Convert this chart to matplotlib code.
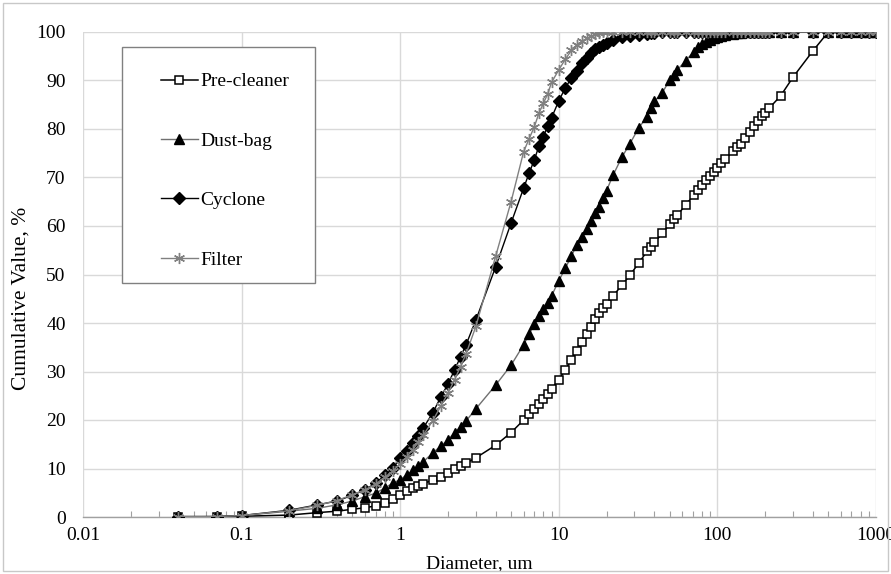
import matplotlib
matplotlib.use("Agg")
import matplotlib.pyplot as plt
from matplotlib.patches import Rectangle
from matplotlib.ticker import LogLocator, NullFormatter, FixedLocator

plt.rcParams['font.family'] = ['Liberation Serif', 'DejaVu Serif']

diameter = [0.04, 0.07, 0.1, 0.2, 0.3, 0.4, 0.5, 0.6, 0.7, 0.8, 0.9,
            1.0, 1.1, 1.2, 1.3, 1.4, 1.6, 1.8, 2.0, 2.2, 2.4, 2.6, 3.0,
            4.0, 5.0, 6.0, 6.5, 7.0, 7.5, 8.0, 8.5, 9.0,
            10, 11, 12, 13, 14, 15, 16, 17, 18, 19, 20,
            22, 25, 28, 32, 36, 38, 40,
            45, 50, 53, 56, 63, 71, 75, 80, 85, 90, 95,
            100, 106, 112, 125, 132, 140, 150, 160, 170, 180, 190, 200, 212,
            250, 300, 400, 500, 600, 700, 800, 900, 1000]

pre_cleaner = [0.0, 0.05, 0.15, 0.4, 0.9, 1.2, 1.6, 1.9, 2.3, 2.9, 3.8,
               4.6, 5.3, 5.9, 6.4, 6.9, 7.6, 8.3, 9.1, 9.8, 10.5, 11.1, 12.2,
               14.8, 17.4, 20.0, 21.2, 22.3, 23.4, 24.4, 25.4, 26.4,
               28.3, 30.4, 32.4, 34.3, 36.0, 37.7, 39.2, 40.8, 42.0, 43.1, 44.0,
               45.6, 47.8, 49.8, 52.4, 54.8, 55.7, 56.6,
               58.5, 60.4, 61.4, 62.3, 64.3, 66.4, 67.4, 68.5, 69.5, 70.3, 71.2,
               72.0, 72.9, 73.8, 75.4, 76.2, 77.0, 78.2, 79.4, 80.6, 81.7, 82.6, 83.4, 84.3,
               86.8, 90.7, 96.1, 100, 100, 100, 100, 100, 100]

dust_bag = [0.0, 0.1, 0.3, 1.2, 1.8, 2.5, 3.3, 4.2, 4.9, 6.0, 7.0,
            7.7, 8.7, 9.6, 10.5, 11.4, 13.2, 14.6, 15.9, 17.4, 18.6, 19.8, 22.3,
            27.2, 31.3, 35.5, 37.7, 39.7, 41.4, 42.9, 44.2, 45.6,
            48.7, 51.3, 53.8, 56.1, 57.7, 59.3, 61.1, 62.6, 64.0, 65.8, 67.3,
            70.5, 74.2, 76.9, 80.3, 82.5, 84.3, 85.7,
            87.5, 90.1, 91.1, 92.2, 94.1, 95.9, 96.9, 97.5, 97.9, 98.3, 98.7,
            99.0, 99.2, 99.4, 99.6, 99.7, 99.8, 99.9, 100, 100, 100, 100, 100, 100,
            100, 100, 100, 100, 100, 100, 100, 100, 100]

cyclone = [0.1, 0.1, 0.3, 1.4, 2.5, 3.3, 4.5, 5.6, 7.0, 8.6, 10.1,
           12.1, 13.6, 15.2, 16.8, 18.4, 21.4, 24.7, 27.4, 30.3, 33.0, 35.5, 40.6,
           51.6, 60.6, 67.8, 70.9, 73.6, 76.5, 78.4, 80.6, 82.3,
           85.8, 88.5, 90.5, 92.0, 93.6, 94.6, 95.6, 96.4, 96.9, 97.3, 97.7,
           98.3, 99.0, 99.2, 99.4, 99.6, 99.7, 99.8,
           99.9, 100, 100, 100, 100, 100, 100, 100, 100, 100, 100,
           100, 100, 100, 100, 100, 100, 100, 100, 100, 100, 100, 100, 100,
           100, 100, 100, 100, 100, 100, 100, 100, 100]

filter_ = [0.1, 0.1, 0.3, 1.3, 2.4, 3.4, 4.6, 5.6, 6.8, 8.2, 9.5,
           11.0, 12.4, 13.9, 15.4, 16.9, 19.8, 22.8, 25.5, 28.3, 31.0, 33.6, 39.3,
           53.8, 65.0, 75.3, 78.0, 80.4, 83.3, 85.3, 87.2, 89.6,
           92.2, 94.4, 96.2, 97.4, 98.1, 98.7, 99.1, 99.5, 99.8, 99.9, 100,
           100, 100, 100, 100, 100, 100, 100,
           100, 100, 100, 100, 100, 100, 100, 100, 100, 100, 100,
           100, 100, 100, 100, 100, 100, 100, 100, 100, 100, 100, 100, 100,
           100, 100, 100, 100, 100, 100, 100, 100, 100]

series_names = ["Pre-cleaner", "Dust-bag", "Cyclone", "Filter"]
x_tick_labels = ["0.01", "0.1", "1", "10", "100", "1000"]
y_ticks = [0, 10, 20, 30, 40, 50, 60, 70, 80, 90, 100]

W, H = 891, 574
fig = plt.figure(figsize=(W / 100, H / 100), dpi=100)
ax = fig.add_axes([83 / W, 1 - 517 / H, (876 - 83) / W, (517 - 32) / H])

# outer chart border
fig.patches.append(Rectangle((3 / W, 3 / H), (W - 6) / W, (H - 6) / H,
                             transform=fig.transFigure, fill=False,
                             edgecolor='#c8c8c8', linewidth=1.0))

ax.plot(diameter, pre_cleaner, color='black', lw=1.1, marker='s', ms=6.2,
        mfc='white', mec='black', mew=1.1, label=series_names[0], zorder=3)
ax.plot(diameter, dust_bag, color='#707070', lw=1.0, marker='^', ms=7,
        mfc='black', mec='black', label=series_names[1], zorder=4)
ax.plot(diameter, cyclone, color='black', lw=1.0, marker='D', ms=6,
        mfc='black', mec='black', label=series_names[2], zorder=5)
ax.plot(diameter, filter_, color='#808080', lw=1.0, marker=(6, 2, 0), ms=8,
        mfc='#808080', mec='#808080', mew=1.0, label=series_names[3], zorder=6)

ax.set_xscale('log')
ax.set_xlim(0.01, 1000)
ax.set_ylim(0, 100)

ax.xaxis.set_major_locator(FixedLocator([0.01, 0.1, 1, 10, 100, 1000]))
ax.set_xticklabels(x_tick_labels)
ax.xaxis.set_minor_locator(LogLocator(base=10, subs=range(2, 10), numticks=20))
ax.xaxis.set_minor_formatter(NullFormatter())
ax.set_yticks(y_ticks)
ax.set_yticklabels([str(v) for v in y_ticks])

ax.tick_params(axis='x', which='major', length=0, pad=7, labelsize=14)
ax.tick_params(axis='x', which='minor', length=4, direction='in', color='#a0a0a0', width=0.8)
ax.tick_params(axis='y', which='major', length=0, pad=12.5, labelsize=14)

ax.grid(True, which='major', axis='both', color='#d9d9d9', linewidth=1.0)
ax.set_axisbelow(True)
for side in ['top', 'right', 'left']:
    ax.spines[side].set_visible(False)
ax.spines['bottom'].set_color('#a0a0a0')
ax.spines['bottom'].set_linewidth(1.0)

ax.set_xlabel("Diameter, um", fontsize=14, labelpad=8)
ax.set_ylabel("Cumulative Value, %", fontsize=15.5)
ax.yaxis.set_label_coords(-0.066, 0.45)

# legend frame
fig.patches.append(Rectangle((122 / W, 1 - 283 / H), (315 - 122) / W, (283 - 47) / H,
                             transform=fig.transFigure, fill=True, facecolor='white',
                             edgecolor='#808080', linewidth=1.0, zorder=1))
leg = fig.legend(loc='upper left', bbox_to_anchor=(151 / W, 1 - 63 / H),
                 frameon=False, fontsize=14, borderpad=0, labelspacing=2.15,
                 handlelength=1.9, handletextpad=0.15)
leg.set_zorder(10)

fig.savefig("out.png", dpi=100)
